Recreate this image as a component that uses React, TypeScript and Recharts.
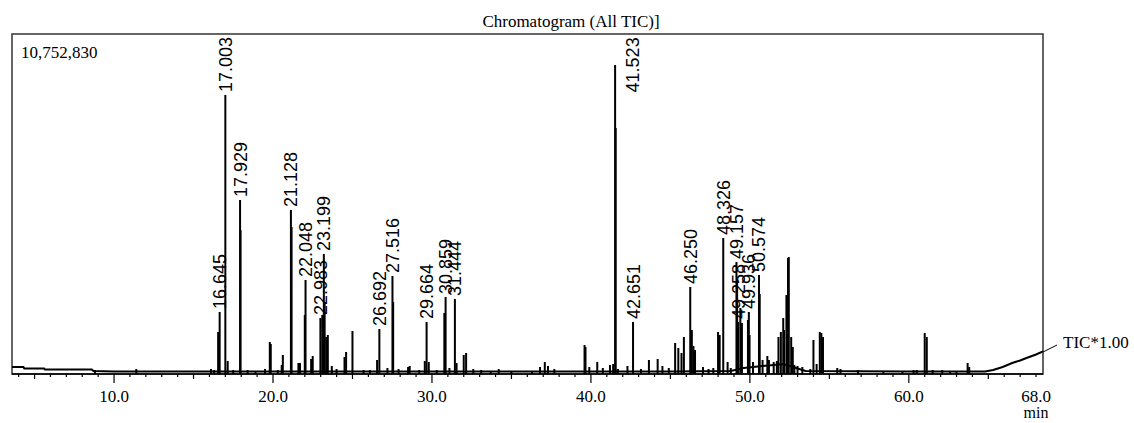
import React from 'react';
import { ComposedChart, Bar, Line, XAxis, YAxis, ReferenceArea, LabelList } from 'recharts';

// full scale of the trace (top of the frame)
const TOP_VALUE = 10752830;
const T_START = 3.58;
const T_END = 68.44;

// retention time (min) of every visible peak / noise spike
const peakTimes = [
  8.8, 11.4, 16.1, 16.3, 16.55, 16.645, 17.003, 17.15, 17.5, 17.929, 17.96, 18.4, 18.9, 19.5, 19.8, 19.86,
  20.3, 20.55, 20.62, 21.128, 21.17, 21.6, 21.7, 22.0, 22.048, 22.4, 22.5, 22.983, 23.1, 23.199, 23.25, 23.35,
  23.45, 23.7, 24.0, 24.5, 24.6, 25.0, 25.7, 26.1, 26.55, 26.692, 27.2, 27.516, 27.56, 27.9, 28.5, 28.6,
  29.2, 29.55, 29.664, 29.8, 30.3, 30.78, 30.859, 31.1, 31.444, 31.55, 32.0, 32.15, 32.6, 33.1, 33.7, 34.2,
  35.0, 36.3, 36.8, 37.1, 37.3, 37.7, 39.6, 39.66, 39.9, 40.4, 40.75, 41.2, 41.4, 41.523, 41.56, 41.7,
  42.3, 42.651, 43.15, 43.65, 44.2, 44.5, 44.9, 45.3, 45.5, 45.7, 45.85, 46.25, 46.35, 46.45, 46.55, 47.05,
  47.4, 47.7, 48.0, 48.1, 48.326, 48.6, 48.8, 49.157, 49.2, 49.258, 49.4, 49.5, 49.88, 49.936, 49.98, 50.2,
  50.574, 50.62, 50.8, 51.1, 51.2, 51.5, 51.7, 51.8, 51.95, 52.1, 52.15, 52.3, 52.4, 52.45, 52.6, 52.7,
  52.8, 53.0, 53.3, 53.8, 54.0, 54.2, 54.4, 54.5, 54.6, 55.5, 55.7, 56.8, 58.4, 59.6, 60.3, 60.5,
  61.0, 61.13, 61.5, 62.1, 62.6, 63.0, 63.7, 63.8,
];

// peak intensity (counts), same order as peakTimes
const peakHeights = [
  126000, 158000, 158000, 126000, 1328000, 1961000, 8824000, 411000, 126000, 5503000, 4554000, 126000, 95000, 158000, 1012000, 949000,
  126000, 285000, 601000, 5187000, 4649000, 348000, 348000, 1866000, 2973000, 474000, 569000, 1771000, 1866000, 3795000, 2245000, 1170000,
  1233000, 253000, 158000, 538000, 696000, 1360000, 126000, 126000, 443000, 1423000, 190000, 3099000, 2277000, 158000, 221000, 253000,
  126000, 411000, 1645000, 380000, 126000, 1929000, 2435000, 190000, 2372000, 348000, 601000, 664000, 158000, 126000, 95000, 158000,
  95000, 95000, 221000, 380000, 253000, 158000, 917000, 854000, 221000, 380000, 190000, 285000, 316000, 9772000, 7780000, 158000,
  253000, 1645000, 158000, 443000, 474000, 253000, 190000, 980000, 822000, 664000, 1170000, 2752000, 1392000, 886000, 759000, 221000,
  158000, 190000, 1328000, 1233000, 4301000, 380000, 190000, 3542000, 2973000, 1645000, 2087000, 1613000, 1708000, 1961000, 1233000, 380000,
  3131000, 2530000, 443000, 569000, 443000, 380000, 411000, 1170000, 1328000, 1771000, 1392000, 2499000, 3669000, 3700000, 1170000, 854000,
  285000, 253000, 221000, 158000, 1075000, 316000, 1328000, 1297000, 1170000, 190000, 158000, 126000, 95000, 95000, 126000, 126000,
  1297000, 1170000, 126000, 126000, 95000, 95000, 348000, 221000,
];

// peaks that carry a retention-time label
const labelTimes = [
  16.645, 17.003, 17.929, 21.128, 22.048, 22.983, 23.199, 26.692, 27.516, 29.664, 30.859, 31.444,
  41.523, 42.651, 46.25, 48.326, 49.157, 49.258, 49.936, 50.574,
];

// slowly varying baseline of the trace
const baseTimes = [3.58, 4.3, 4.35, 5.6, 5.65, 8.6, 8.7, 10, 16, 30, 45, 48.8, 49.6, 50.8, 51.5, 52.1, 52.9, 53.5, 60, 64.8, 65.3, 65.9, 66.5, 67.0, 67.4, 68.0, 68.44];
const baseValues = [221000, 221000, 174000, 174000, 142000, 142000, 95000, 79000, 79000, 79000, 79000, 95000, 190000, 253000, 285000, 316000, 190000, 95000, 79000, 79000, 126000, 221000, 348000, 427000, 506000, 617000, 712000];

const timeTicks = Array.from({ length: 65 }, (_, i) => i + 4);
const labelledTicks = [10, 20, 30, 40, 50, 60, 68];
const tickTexts = ['10.0', '20.0', '30.0', '40.0', '50.0', '60.0', '68.0'];

const peaks = peakTimes.map((t, i) => ({
  t,
  v: peakHeights[i],
  label: labelTimes.includes(t) ? t.toFixed(3) : '',
}));
const baseline = baseTimes.map((t, i) => ({ t, v: baseValues[i] }));

const PLOT_TOP = 34;
const serif = '"Liberation Serif", "Times New Roman", serif';
const sans = '"Liberation Sans", Arial, sans-serif';

function TimeTick(props: any) {
  const { x, y, payload } = props;
  const v = payload.value;
  const len = v % 10 === 0 && v <= 60 ? 9 : v % 5 === 0 ? 5 : 3;
  const k = labelledTicks.indexOf(v);
  return (
    <g>
      <line x1={x} x2={x} y1={y} y2={y + len} stroke="#000" strokeWidth={1.2} />
      {k >= 0 && (
        <text x={x} y={y + 28} textAnchor="middle" fontFamily={serif} fontSize={17} fill="#000">
          {tickTexts[k]}
        </text>
      )}
    </g>
  );
}

// fixed 2px spike centred on the retention time
const PeakShape = (props: any) => {
  const { x, y, width, height } = props;
  if (!height || height <= 0) return null;
  const cx = Number(x) + Number(width) / 2;
  return <rect x={cx - 1} y={y} width={2} height={height} fill="#000" />;
};

const renderPeakLabel = (props: any) => {
  const { x, y, width, value } = props;
  if (!value) return null;
  const cx = Number(x) + Number(width) / 2;
  const top = Number(y);
  const len = String(value).length * 9.4;
  let bx = cx + 6.5;
  let by = top - 3;
  if (by - len < PLOT_TOP) {
    bx = cx + 24;
    by = PLOT_TOP + len + 2;
  }
  return (
    <text x={bx} y={by} transform={`rotate(-90 ${bx} ${by})`} fontFamily={sans} fontSize={18} fill="#000">
      {value}
    </text>
  );
};

export default function App() {
  return (
    <div style={{ position: 'absolute', left: 0, top: 0, width: 1134, height: 423, background: '#fff' }}>
      <ComposedChart width={1134} height={423} data={peaks} margin={{ top: 34, right: 91, bottom: 0, left: 12 }}>
        <XAxis
          dataKey="t"
          type="number"
          domain={[T_START, T_END]}
          allowDataOverflow
          ticks={timeTicks}
          interval={0}
          tickSize={0}
          tickMargin={0}
          tickLine={false}
          tick={<TimeTick />}
          axisLine={{ stroke: '#000', strokeWidth: 1.5 }}
          height={49}
        />
        <YAxis hide type="number" domain={[0, TOP_VALUE]} allowDataOverflow />
        <ReferenceArea
          x1={T_START}
          x2={T_END}
          y1={0}
          y2={TOP_VALUE}
          fill="none"
          stroke="#333"
          strokeWidth={1.5}
          ifOverflow="visible"
        />
        <Line
          data={baseline}
          dataKey="v"
          type="linear"
          stroke="#000"
          strokeWidth={2}
          dot={false}
          isAnimationActive={false}
        />
        <Bar dataKey="v" fill="#000" barSize={2} shape={<PeakShape />} isAnimationActive={false}>
          <LabelList dataKey="label" content={renderPeakLabel} />
        </Bar>
      </ComposedChart>
      <svg width={1134} height={423} style={{ position: 'absolute', left: 0, top: 0, pointerEvents: 'none' }}>
        <text x={571} y={27} textAnchor="middle" fontFamily={serif} fontSize={17} fill="#000">
          Chromatogram (All TIC)]
        </text>
        <text x={21} y={58} fontFamily={serif} fontSize={17} fill="#000">
          10,752,830
        </text>
        <line x1={1043} y1={352} x2={1057} y2={345} stroke="#000" strokeWidth={1} />
        <text x={1063} y={348} fontFamily={serif} fontSize={17} fill="#000">
          TIC*1.00
        </text>
        <text x={1036} y={418} textAnchor="middle" fontFamily={serif} fontSize={16} fill="#000">
          min
        </text>
      </svg>
    </div>
  );
}
